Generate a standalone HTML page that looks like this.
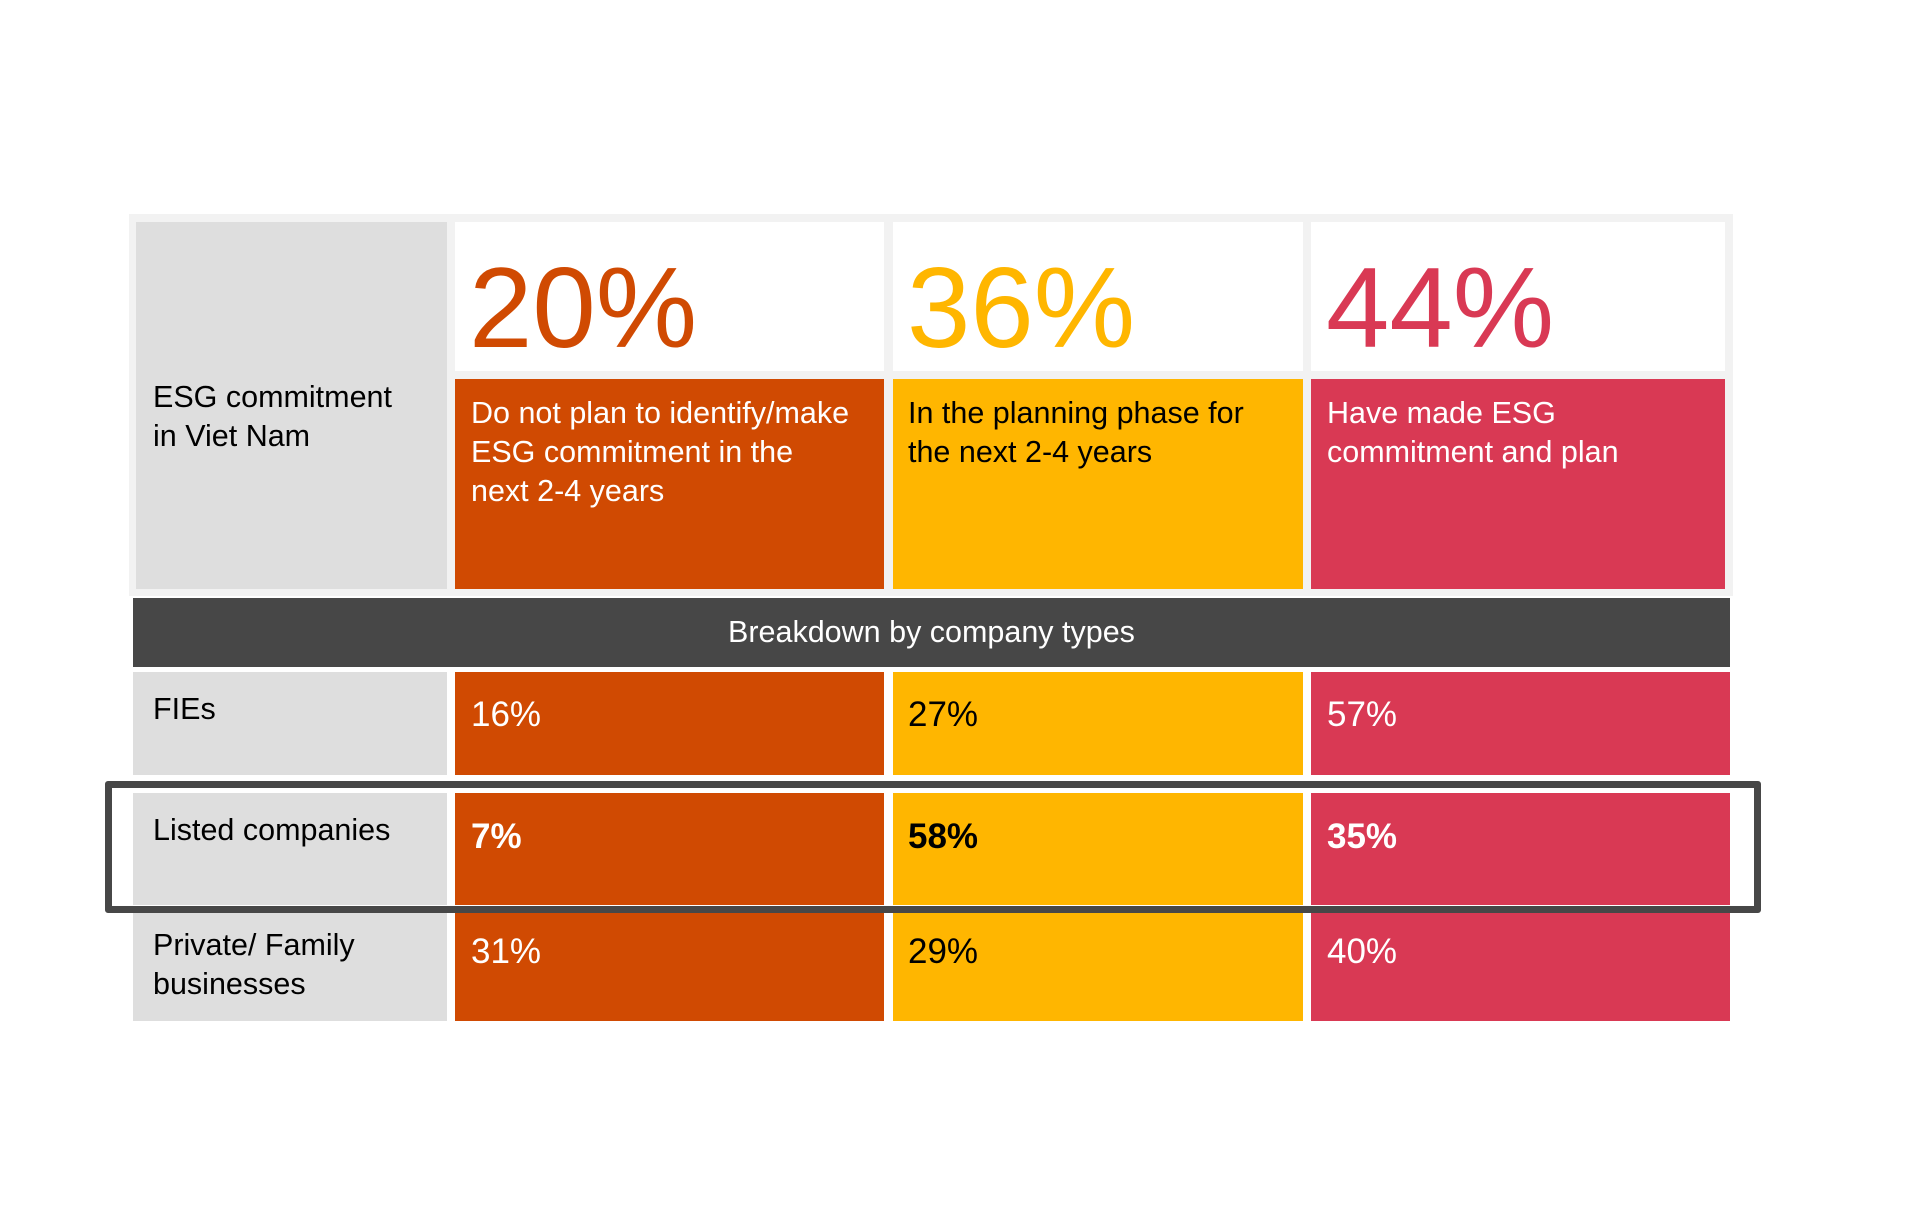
<!DOCTYPE html>
<html><head><meta charset="utf-8"><style>
body{margin:0;width:1920px;height:1221px;background:#fff;position:relative;overflow:hidden;font-family:"Liberation Sans",Arial,sans-serif}
div{position:absolute;box-sizing:border-box}
.t{white-space:nowrap;font-size:30.5px;line-height:39px}
.v{font-size:35px!important}
.big{font-size:114px;line-height:114px;white-space:nowrap}
.o{background:#D04A02}.y{background:#FFB600}.r{background:#D93954}.g{background:#DEDEDE}
.w{color:#fff}.k{color:#000}
</style></head><body>
<div style="left:129px;top:214px;width:1604px;height:382px;background:#F2F2F2"></div>
<div class="g" style="left:136px;top:222px;width:311px;height:367px"></div>
<div style="left:455px;top:222px;width:429px;height:149px;background:#fff"></div>
<div style="left:893px;top:222px;width:410px;height:149px;background:#fff"></div>
<div style="left:1311px;top:222px;width:414px;height:149px;background:#fff"></div>
<div class="o" style="left:455px;top:379px;width:429px;height:210px"></div>
<div class="y" style="left:893px;top:379px;width:410px;height:210px"></div>
<div class="r" style="left:1311px;top:379px;width:414px;height:210px"></div>

<div class="big" style="left:469px;top:252px;color:#D04A02">20%</div>
<div class="big" style="left:907px;top:252px;color:#FFB600">36%</div>
<div class="big" style="left:1326px;top:252px;color:#D93954">44%</div>

<div class="t k" style="left:153px;top:378px">ESG commitment<br>in Viet Nam</div>
<div class="t w" style="left:471px;top:394px">Do not plan to identify/make<br>ESG commitment in the<br>next 2-4 years</div>
<div class="t k" style="left:908px;top:394px">In the planning phase for<br>the next 2-4 years</div>
<div class="t w" style="left:1327px;top:394px">Have made ESG<br>commitment and plan</div>

<div style="left:133px;top:598px;width:1597px;height:69px;background:#474747"></div>
<div class="t w" style="left:133px;top:613px;width:1597px;text-align:center">Breakdown by company types</div>

<div class="g" style="left:133px;top:672px;width:314px;height:103px"></div>
<div class="o" style="left:455px;top:672px;width:429px;height:103px"></div>
<div class="y" style="left:893px;top:672px;width:410px;height:103px"></div>
<div class="r" style="left:1311px;top:672px;width:419px;height:103px"></div>

<div class="g" style="left:133px;top:793px;width:314px;height:112px"></div>
<div class="o" style="left:455px;top:793px;width:429px;height:112px"></div>
<div class="y" style="left:893px;top:793px;width:410px;height:112px"></div>
<div class="r" style="left:1311px;top:793px;width:419px;height:112px"></div>

<div class="g" style="left:133px;top:912px;width:314px;height:109px"></div>
<div class="o" style="left:455px;top:912px;width:429px;height:109px"></div>
<div class="y" style="left:893px;top:912px;width:410px;height:109px"></div>
<div class="r" style="left:1311px;top:912px;width:419px;height:109px"></div>

<div class="t k" style="left:153px;top:690px">FIEs</div>
<div class="t w v" style="left:471px;top:695px">16%</div>
<div class="t k v" style="left:908px;top:695px">27%</div>
<div class="t w v" style="left:1327px;top:695px">57%</div>

<div class="t k" style="left:153px;top:811px">Listed companies</div>
<div class="t w v" style="left:471px;top:817px;font-weight:bold">7%</div>
<div class="t k v" style="left:908px;top:817px;font-weight:bold">58%</div>
<div class="t w v" style="left:1327px;top:817px;font-weight:bold">35%</div>

<div class="t k" style="left:153px;top:926px">Private/ Family<br>businesses</div>
<div class="t w v" style="left:471px;top:932px">31%</div>
<div class="t k v" style="left:908px;top:932px">29%</div>
<div class="t w v" style="left:1327px;top:932px">40%</div>

<div style="left:105px;top:781px;width:1656px;height:132px;border:7px solid #474747;border-radius:3px"></div>
</body></html>
